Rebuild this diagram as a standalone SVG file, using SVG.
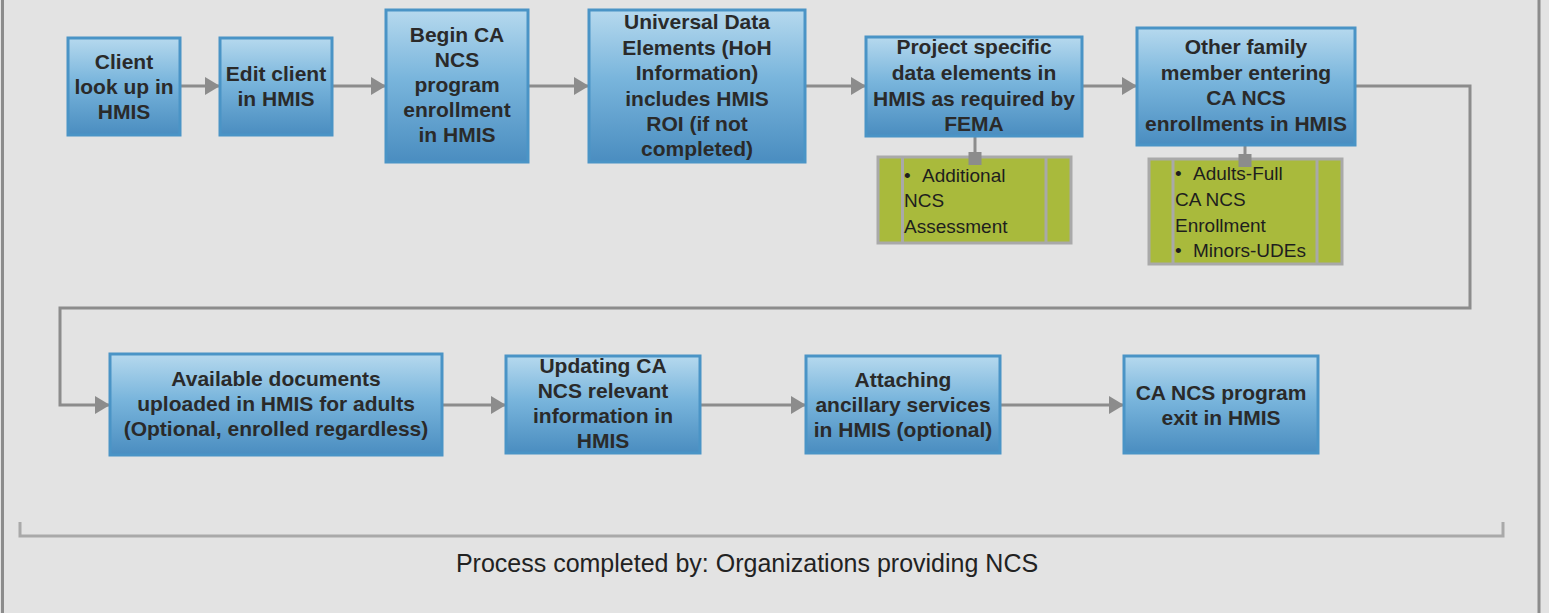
<svg xmlns="http://www.w3.org/2000/svg" width="1549" height="613" viewBox="0 0 1549 613">
<style>
.box{fill:url(#blue);stroke:#4a94c6;stroke-width:3}
.bt{font-family:"Liberation Sans",Arial,sans-serif;font-weight:bold;font-size:21px;fill:#2a2a2a;text-anchor:middle}
.gbox{fill:#a9ba3c;stroke:#a9a9a9;stroke-width:3}
.gdiv{stroke:#a9a9a9;stroke-width:3}
.gt{font-family:"Liberation Sans",Arial,sans-serif;font-size:19px;fill:#1e1e1e}
.conn{fill:none;stroke:#8c8c8c;stroke-width:3}
.tap{fill:#8c8c8c}
</style>
<defs>
<linearGradient id="blue" x1="0" y1="0" x2="0" y2="1">
<stop offset="0" stop-color="#b6d9ee"/>
<stop offset="0.45" stop-color="#79b5dc"/>
<stop offset="1" stop-color="#4a8dc0"/>
</linearGradient>
<marker id="arr" markerUnits="userSpaceOnUse" markerWidth="16" markerHeight="18" refX="15" refY="9" orient="auto">
<path d="M0,0 L15,9 L0,18 Z" fill="#8c8c8c"/>
</marker>
</defs>
<rect x="0" y="0" width="1549" height="613" fill="#e3e3e3"/>
<line x1="2.5" y1="0" x2="2.5" y2="613" stroke="#8c8c8c" stroke-width="3"/>
<line x1="1539" y1="0" x2="1539" y2="613" stroke="#8c8c8c" stroke-width="3"/>

<g id="connectors">
<line class="conn" x1="180" y1="86" x2="220" y2="86" marker-end="url(#arr)"/>
<line class="conn" x1="332" y1="86" x2="386" y2="86" marker-end="url(#arr)"/>
<line class="conn" x1="528" y1="86" x2="589" y2="86" marker-end="url(#arr)"/>
<line class="conn" x1="805" y1="86" x2="866" y2="86" marker-end="url(#arr)"/>
<line class="conn" x1="1082" y1="86" x2="1137" y2="86" marker-end="url(#arr)"/>
<path class="conn" d="M1355,86 H1470 V308 H60 V405 H110" marker-end="url(#arr)"/>
<line class="conn" x1="442" y1="405" x2="506" y2="405" marker-end="url(#arr)"/>
<line class="conn" x1="700" y1="405" x2="806" y2="405" marker-end="url(#arr)"/>
<line class="conn" x1="1000" y1="405" x2="1124" y2="405" marker-end="url(#arr)"/>
<line class="conn" x1="975" y1="136" x2="975" y2="153"/>
<line class="conn" x1="1245" y1="145" x2="1245" y2="155"/>
</g>

<g id="n1"><rect class="box" x="68" y="38" width="112" height="97"/>
<text class="bt" x="124" y="69">Client</text><text class="bt" x="124" y="94">look up in</text><text class="bt" x="124" y="119">HMIS</text></g>

<g id="n2"><rect class="box" x="220" y="38" width="112" height="97"/>
<text class="bt" x="276" y="81">Edit client</text><text class="bt" x="276" y="106">in HMIS</text></g>

<g id="n3"><rect class="box" x="386" y="10" width="142" height="152"/>
<text class="bt" x="457" y="42">Begin CA</text><text class="bt" x="457" y="67">NCS</text><text class="bt" x="457" y="92">program</text><text class="bt" x="457" y="117">enrollment</text><text class="bt" x="457" y="142">in HMIS</text></g>

<g id="n4"><rect class="box" x="589" y="10" width="216" height="152"/>
<text class="bt" x="697" y="29">Universal Data</text><text class="bt" x="697" y="55">Elements (HoH</text><text class="bt" x="697" y="80">Information)</text><text class="bt" x="697" y="106">includes HMIS</text><text class="bt" x="697" y="131">ROI (if not</text><text class="bt" x="697" y="156">completed)</text></g>

<g id="n5"><rect class="box" x="866" y="37" width="216" height="99"/>
<text class="bt" x="974" y="54">Project specific</text><text class="bt" x="974" y="80">data elements in</text><text class="bt" x="974" y="106">HMIS as required by</text><text class="bt" x="974" y="131">FEMA</text></g>

<g id="n6"><rect class="box" x="1137" y="28" width="218" height="117"/>
<text class="bt" x="1246" y="54">Other family</text><text class="bt" x="1246" y="80">member entering</text><text class="bt" x="1246" y="105">CA NCS</text><text class="bt" x="1246" y="131">enrollments in HMIS</text></g>

<g id="g1"><rect class="gbox" x="878" y="157" width="193" height="86"/>
<line class="gdiv" x1="902.5" y1="157" x2="902.5" y2="243"/><line class="gdiv" x1="1046" y1="157" x2="1046" y2="243"/>
<rect class="tap" x="968.5" y="152" width="13" height="13"/>
<text class="gt" x="904" y="182">•<tspan x="922">Additional</tspan></text>
<text class="gt" x="904" y="207">NCS</text><text class="gt" x="904" y="233">Assessment</text></g>

<g id="g2"><rect class="gbox" x="1149" y="159" width="193" height="105"/>
<line class="gdiv" x1="1173" y1="159" x2="1173" y2="264"/><line class="gdiv" x1="1317" y1="159" x2="1317" y2="264"/>
<rect class="tap" x="1238.5" y="154" width="13" height="13"/>
<text class="gt" x="1175" y="180">•<tspan x="1193">Adults-Full</tspan></text>
<text class="gt" x="1175" y="206">CA NCS</text><text class="gt" x="1175" y="232">Enrollment</text>
<text class="gt" x="1175" y="257">•<tspan x="1193">Minors-UDEs</tspan></text></g>

<g id="n7"><rect class="box" x="110" y="354" width="332" height="101"/>
<text class="bt" x="276" y="386">Available documents</text><text class="bt" x="276" y="411">uploaded in HMIS for adults</text><text class="bt" x="276" y="436">(Optional, enrolled regardless)</text></g>

<g id="n8"><rect class="box" x="506" y="356" width="194" height="97"/>
<text class="bt" x="603" y="373">Updating CA</text><text class="bt" x="603" y="398">NCS relevant</text><text class="bt" x="603" y="423">information in</text><text class="bt" x="603" y="448">HMIS</text></g>

<g id="n9"><rect class="box" x="806" y="356" width="194" height="97"/>
<text class="bt" x="903" y="387">Attaching</text><text class="bt" x="903" y="412">ancillary services</text><text class="bt" x="903" y="437">in HMIS (optional)</text></g>

<g id="n10"><rect class="box" x="1124" y="356" width="194" height="97"/>
<text class="bt" x="1221" y="400">CA NCS program</text><text class="bt" x="1221" y="425">exit in HMIS</text></g>

<g id="footer">
<path d="M20,522 V536 H1503 V522" fill="none" stroke="#a9a9a9" stroke-width="3"/>
<text x="747" y="572" text-anchor="middle" font-family="'Liberation Sans',Arial,sans-serif" font-size="25" fill="#222">Process completed by: Organizations providing NCS</text>
</g>
</svg>
